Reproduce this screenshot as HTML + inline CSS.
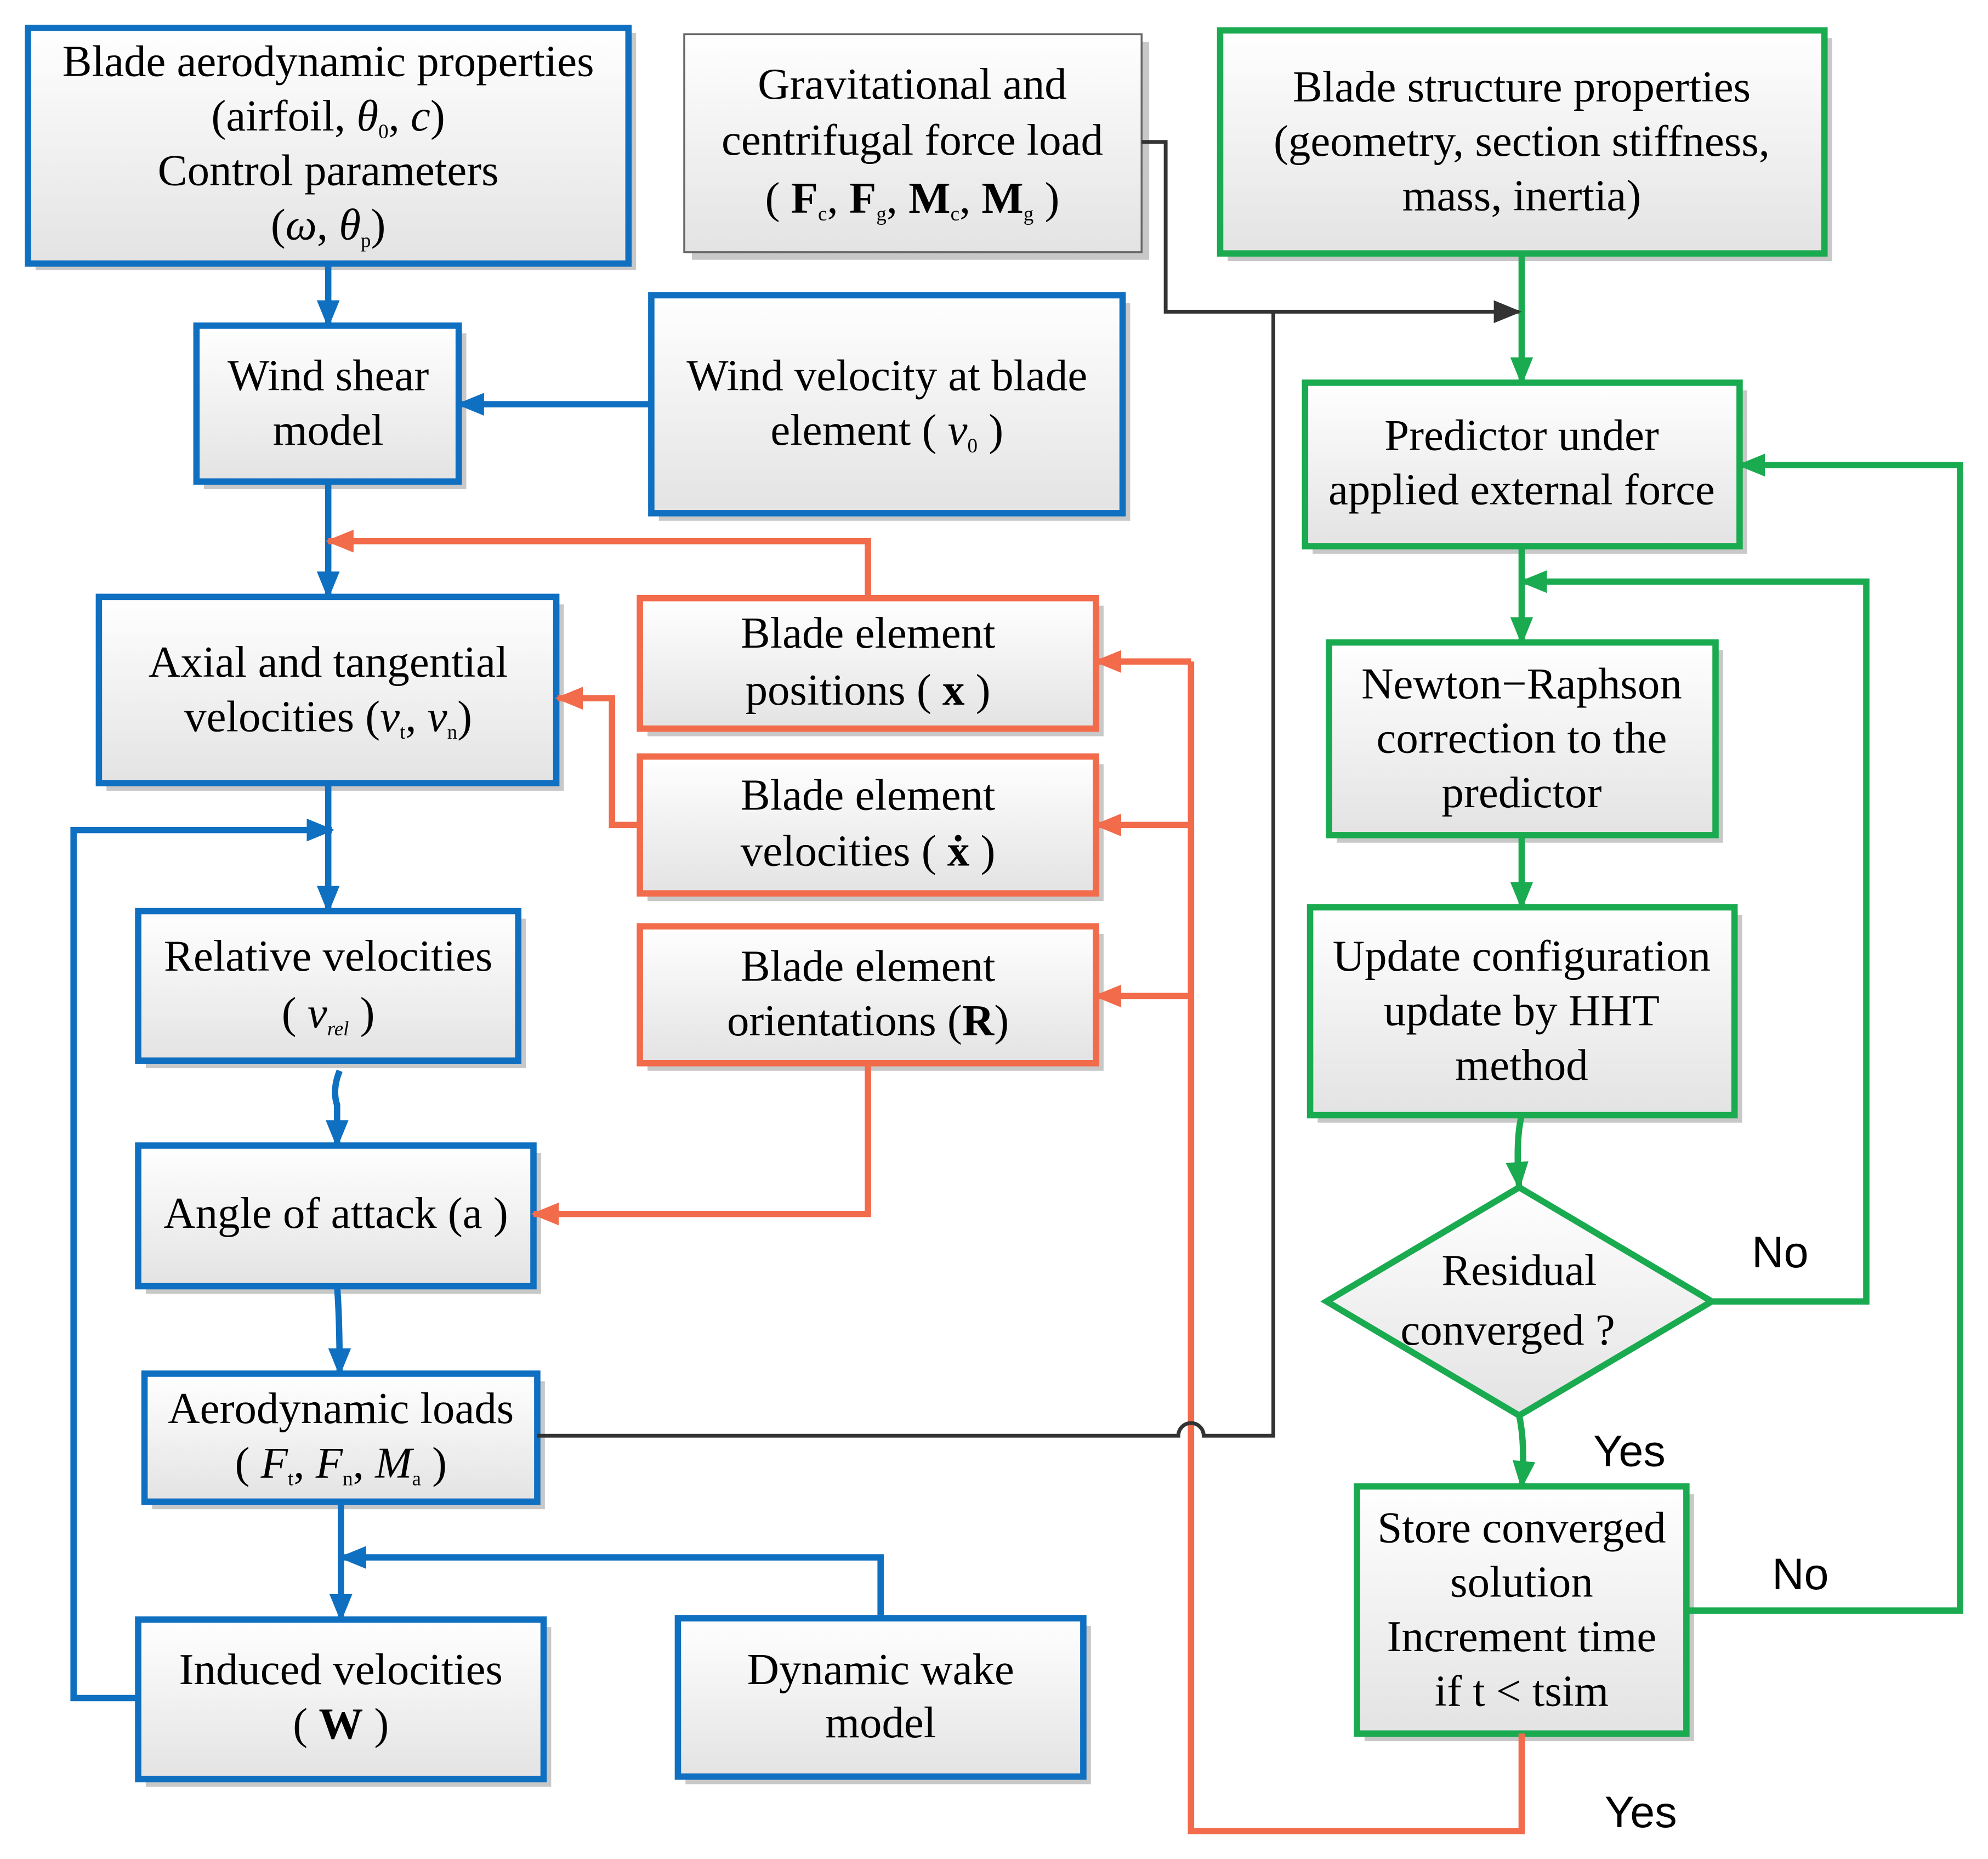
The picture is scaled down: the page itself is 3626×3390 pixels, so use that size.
<!DOCTYPE html>
<html><head><meta charset="utf-8"><style>
html,body{margin:0;padding:0;background:#fff}
svg{display:block}
text{font-family:"Liberation Serif",serif;font-size:35px;fill:#000;text-anchor:middle}
.s{font-family:"Liberation Sans",sans-serif}
</style></head><body>
<svg width="3626" height="3390" viewBox="0 0 1569 1467" xmlns="http://www.w3.org/2000/svg">
<defs>
<linearGradient id="g" x1="0" y1="0" x2="0" y2="1"><stop offset="0" stop-color="#ffffff"/><stop offset="1" stop-color="#e3e3e3"/></linearGradient>
<marker id="ab" markerWidth="22" markerHeight="18" refX="20" refY="9" orient="auto" markerUnits="userSpaceOnUse" viewBox="0 0 22 18"><path d="M0,0 L22,9 L0,18 z" fill="#0f6fc0"/></marker>
<marker id="ao" markerWidth="22" markerHeight="18" refX="20" refY="9" orient="auto" markerUnits="userSpaceOnUse" viewBox="0 0 22 18"><path d="M0,0 L22,9 L0,18 z" fill="#f26b4b"/></marker>
<marker id="ag" markerWidth="22" markerHeight="18" refX="20" refY="9" orient="auto" markerUnits="userSpaceOnUse" viewBox="0 0 22 18"><path d="M0,0 L22,9 L0,18 z" fill="#1aaa50"/></marker>
<marker id="ak" markerWidth="22" markerHeight="18" refX="20" refY="9" orient="auto" markerUnits="userSpaceOnUse" viewBox="0 0 22 18"><path d="M0,0 L22,9 L0,18 z" fill="#333"/></marker>
</defs>
<g fill="#c8c8c8">
<rect x="28" y="26" width="474" height="187"/><rect x="546" y="33" width="361" height="172"/><rect x="969" y="30" width="477" height="176"/>
<rect x="161" y="263" width="207" height="123"/><rect x="520" y="239" width="372" height="172"/><rect x="84" y="477" width="361" height="147"/>
<rect x="511" y="478" width="360" height="103"/><rect x="511" y="603" width="360" height="108"/><rect x="511" y="737" width="360" height="108"/>
<rect x="115" y="725" width="300" height="118"/><rect x="115" y="910" width="312" height="111"/><rect x="120" y="1090" width="310" height="101"/>
<rect x="115" y="1284" width="320" height="126"/><rect x="541" y="1283" width="320" height="125"/>
<rect x="1036" y="308" width="343" height="129"/><rect x="1055" y="513" width="305" height="152"/><rect x="1040" y="722" width="335" height="164"/><rect x="1077" y="1179" width="260" height="195"/>
</g>
<g fill="url(#g)" stroke-width="5">
<rect x="22" y="22" width="474" height="186" stroke="#0f6fc0"/>
<rect x="540" y="27" width="361" height="172" stroke="#666" stroke-width="1.5"/>
<rect x="963" y="24" width="477" height="176" stroke="#1aaa50"/>
<rect x="155" y="257" width="207" height="123" stroke="#0f6fc0"/>
<rect x="514" y="233" width="372" height="172" stroke="#0f6fc0"/>
<rect x="78" y="471" width="361" height="147" stroke="#0f6fc0"/>
<rect x="505" y="472" width="360" height="103" stroke="#f26b4b"/>
<rect x="505" y="597" width="360" height="108" stroke="#f26b4b"/>
<rect x="505" y="731" width="360" height="108" stroke="#f26b4b"/>
<rect x="109" y="719" width="300" height="118" stroke="#0f6fc0"/>
<rect x="109" y="904" width="312" height="111" stroke="#0f6fc0"/>
<rect x="114" y="1084" width="310" height="101" stroke="#0f6fc0"/>
<rect x="109" y="1278" width="320" height="126" stroke="#0f6fc0"/>
<rect x="535" y="1277" width="320" height="125" stroke="#0f6fc0"/>
<rect x="1030" y="302" width="343" height="129" stroke="#1aaa50"/>
<rect x="1049" y="507" width="305" height="152" stroke="#1aaa50"/>
<rect x="1034" y="716" width="335" height="164" stroke="#1aaa50"/>
<polygon points="1199,937 1351,1027 1199,1117 1047,1027" stroke="#1aaa50"/>
<rect x="1071" y="1173" width="260" height="195" stroke="#1aaa50"/>
</g>
<g fill="none" stroke-width="5">
<g stroke="#0f6fc0" marker-end="url(#ab)">
<path d="M259,208 V257"/><path d="M514,319 H362"/><path d="M259,380 V471"/><path d="M259,618 V719"/>
<path d="M109,1340 H58 V655 H262"/><path d="M268,845 Q262,860 266,872 V904"/><path d="M266,1015 Q268,1040 268,1084"/><path d="M269,1185 V1278"/>
<path d="M695,1277 V1229 H269"/>
</g>
<g stroke="#f26b4b" marker-end="url(#ao)">
<path d="M685,472 V427 H259"/><path d="M505,651 H483 V551 H440"/><path d="M685,839 V958 H421"/>
<path d="M940,522 H865"/><path d="M940,651 H865"/><path d="M940,786 H865"/>
</g>
<path d="M940,522 V1445 H1201 V1368" stroke="#f26b4b"/>
<g stroke="#1aaa50" marker-end="url(#ag)">
<path d="M1201,200 V302"/><path d="M1201,431 V507"/><path d="M1351,1027 H1473 V459 H1201"/><path d="M1201,659 V716"/>
<path d="M1201,880 Q1196,900 1199,937"/><path d="M1199,1117 Q1204,1140 1201,1173"/><path d="M1331,1271 H1547 V367 H1373"/>
</g>
<g stroke="#333" stroke-width="3">
<path d="M901,112 H920 V246 H1199" marker-end="url(#ak)"/>
<path d="M424,1133 H930 A10,10 0 0 1 950,1133 H1005 V246"/>
</g>
</g>
<text x="259" y="60">Blade aerodynamic properties</text>
<text x="259" y="103">(airfoil, <tspan font-style="italic">θ</tspan><tspan font-size="16" dy="6">0</tspan><tspan dy="-6">, </tspan><tspan font-style="italic">c</tspan>)</text>
<text x="259" y="146">Control parameters</text>
<text x="259" y="189">(<tspan font-style="italic">ω</tspan>, <tspan font-style="italic">θ</tspan><tspan font-size="16" dy="6">p</tspan><tspan dy="-6">)</tspan></text>
<text x="720" y="78">Gravitational and</text>
<text x="720" y="122">centrifugal force load</text>
<text x="720" y="168">( <tspan font-weight="bold">F</tspan><tspan font-size="16" dy="6">c</tspan><tspan dy="-6">, </tspan><tspan font-weight="bold">F</tspan><tspan font-size="16" dy="6">g</tspan><tspan dy="-6">, </tspan><tspan font-weight="bold">M</tspan><tspan font-size="16" dy="6">c</tspan><tspan dy="-6">, </tspan><tspan font-weight="bold">M</tspan><tspan font-size="16" dy="6">g</tspan><tspan dy="-6"> )</tspan></text>
<text x="1201" y="80">Blade structure properties</text>
<text x="1201" y="123">(geometry, section stiffness,</text>
<text x="1201" y="166">mass, inertia)</text>
<text x="259" y="308">Wind shear</text><text x="259" y="351">model</text>
<text x="700" y="308">Wind velocity at blade</text>
<text x="700" y="351">element ( <tspan font-style="italic">v</tspan><tspan font-size="16" dy="6">0</tspan><tspan dy="-6"> )</tspan></text>
<text x="259" y="534">Axial and tangential</text>
<text x="259" y="577">velocities (<tspan font-style="italic">v</tspan><tspan font-size="16" dy="6">t</tspan><tspan dy="-6">, </tspan><tspan font-style="italic">v</tspan><tspan font-size="16" dy="6">n</tspan><tspan dy="-6">)</tspan></text>
<text x="685" y="511">Blade element</text><text x="685" y="556">positions ( <tspan font-weight="bold">x</tspan> )</text>
<text x="685" y="639">Blade element</text><text x="685" y="683">velocities ( <tspan font-weight="bold">ẋ</tspan> )</text>
<text x="685" y="774">Blade element</text><text x="685" y="817">orientations (<tspan font-weight="bold">R</tspan>)</text>
<text x="259" y="766">Relative velocities</text>
<text x="259" y="811">( <tspan font-style="italic">v</tspan><tspan font-size="16" font-style="italic" dy="6">rel</tspan><tspan dy="-6"> )</tspan></text>
<text x="265" y="969">Angle of attack (a )</text>
<text x="269" y="1123">Aerodynamic loads</text>
<text x="269" y="1166">( <tspan font-style="italic">F</tspan><tspan font-size="16" dy="6">t</tspan><tspan dy="-6">, </tspan><tspan font-style="italic">F</tspan><tspan font-size="16" dy="6">n</tspan><tspan dy="-6">, </tspan><tspan font-style="italic">M</tspan><tspan font-size="16" dy="6">a</tspan><tspan dy="-6"> )</tspan></text>
<text x="269" y="1329">Induced velocities</text><text x="269" y="1372">( <tspan font-weight="bold">W</tspan> )</text>
<text x="695" y="1329">Dynamic wake</text><text x="695" y="1371">model</text>
<text x="1201" y="355">Predictor under</text><text x="1201" y="398">applied external force</text>
<text x="1201" y="551">Newton−Raphson</text><text x="1201" y="594">correction to the</text><text x="1201" y="637">predictor</text>
<text x="1201" y="766">Update configuration</text><text x="1201" y="809">update by HHT</text><text x="1201" y="852">method</text>
<text x="1199" y="1014">Residual</text><text x="1190" y="1061">converged ?</text>
<text x="1201" y="1217">Store converged</text><text x="1201" y="1260">solution</text><text x="1201" y="1303">Increment  time</text><text x="1201" y="1346">if t &lt; tsim</text>
<text class="s" x="1405" y="1000" font-size="36">No</text>
<text class="s" x="1286" y="1157" font-size="36">Yes</text>
<text class="s" x="1421" y="1254" font-size="30">No</text>
<text class="s" x="1295" y="1442" font-size="36">Yes</text>
</svg>
</body></html>
